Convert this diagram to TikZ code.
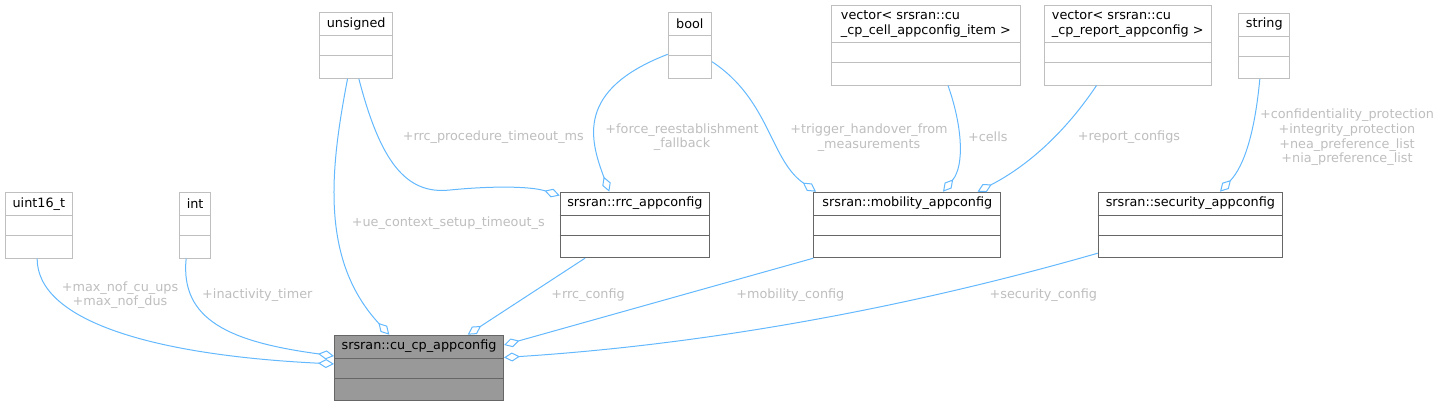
\documentclass[tikz,border=0pt]{standalone}
\usepackage{fontspec}
\setmainfont{DejaVu Sans}
\usetikzlibrary{arrows.meta}
\definecolor{EdgeBlue}{HTML}{63B8FF}
\definecolor{LabelGrey}{HTML}{BEBEBE}
\definecolor{TypeGrey}{HTML}{BFBFBF}
\definecolor{BoxGrey}{HTML}{666666}
\definecolor{RootFill}{HTML}{999999}

\tikzset{
  typebox/.style={draw=TypeGrey, fill=white, line width=1pt, inner sep=0pt},
  structbox/.style={draw=BoxGrey, fill=white, line width=1pt, inner sep=0pt},
  rootbox/.style={draw=BoxGrey, fill=RootFill, line width=1pt, inner sep=0pt},
  boxtitle/.style={inner sep=0pt, align=left, font=\fontsize{12.8}{15}\selectfont},
  memberlabel/.style={text=LabelGrey, inner sep=0pt, align=center, font=\fontsize{12.8}{14.6}\selectfont},
  member/.style={EdgeBlue, line width=1pt, -{Diamond[open, length=16pt, width=9pt]}},
}

% style, name, x, y, width, header height, title
\newcommand{\classbox}[7]{%
  \node[#1, anchor=north west, minimum width=#5, minimum height=#6+42] (#2) at (#3,#4) {};
  \draw[#1, fill=none] ([yshift=-#6]#2.north west) -- ([yshift=-#6]#2.north east);
  \draw[#1, fill=none] ([yshift=-#6-20]#2.north west) -- ([yshift=-#6-20]#2.north east);
  \node[boxtitle] (#2title) at ([yshift=-#6/2]#2.north) {#7};
}

\begin{document}
\begin{tikzpicture}[x=1pt, y=-1pt]
  \useasboundingbox (0,0) rectangle (1440,405);

  % member types
  \classbox{typebox}{uint}{5}{192}{66.7}{23.5}{uint16\_t}
  \classbox{typebox}{int}{179.3}{192}{30.7}{23.5}{int}
  \classbox{typebox}{unsigned}{319}{12.3}{73.3}{23.5}{unsigned}
  \classbox{typebox}{bool}{667.7}{12.3}{43.3}{23.5}{bool}
  \classbox{typebox}{vcell}{831}{5}{188.7}{37.5}{vector< srsran::cu\\\_cp\_cell\_appconfig\_item >}
  \classbox{typebox}{vrep}{1043.7}{5}{167}{37.5}{vector< srsran::cu\\\_cp\_report\_appconfig >}
  \classbox{typebox}{string}{1238.3}{12.7}{51}{23.5}{string}

  % config structs
  \classbox{structbox}{rrc}{559.7}{191.7}{149.3}{23.5}{srsran::rrc\_appconfig}
  \classbox{structbox}{mobility}{813.3}{191.7}{187}{23.5}{srsran::mobility\_appconfig}
  \classbox{structbox}{security}{1097.7}{191.7}{184.3}{23.5}{srsran::security\_appconfig}
  \classbox{rootbox}{cucp}{334}{334.7}{169}{23.5}{srsran::cu\_cp\_appconfig}

  % members of cu_cp_appconfig
  \draw[member] ([xshift=-1.7]uint.south) .. controls (37,320) and (150,355) .. ([yshift=4]cucp.west);
  \draw[member] ([xshift=-9]int.south) .. controls (180,320) and (230,342) .. ([yshift=12]cucp.west);
  \draw[member] ([xshift=-8.6]unsigned.south) .. controls (330,170) and (320,260) .. ([xshift=55.3]cucp.north west);
  \draw[member] ([xshift=25.3]rrc.south west) -- ([xshift=133.7]cucp.north west);
  \draw[member] (mobility.south west) -- ([yshift=-10.3]cucp.north east);
  \draw[member] ([yshift=5]security.south west) .. controls (900,310) and (700,345) .. ([yshift=-22.8]cucp.north east);

  % members of rrc_appconfig
  \draw[member] ([xshift=2.7]unsigned.south) .. controls (380,160) and (405,195) .. (450,190)
    .. controls (490,186) and (530,186) .. ([yshift=-3.8]rrc.north west);
  \draw[member] ([yshift=-42]bool.north west) .. controls (575,90) and (590,140) .. ([xshift=49.6]rrc.north west);

  % members of mobility_appconfig
  \draw[member] ([yshift=-49.4]bool.north east) .. controls (770,100) and (770,160) .. ([xshift=2.7]mobility.north west);
  \draw[member] ([xshift=117]vcell.south west) .. controls (962,125) and (965,165) .. ([xshift=129.7]mobility.north west);
  \draw[member] ([xshift=52.8]vrep.south west) .. controls (1060,140) and (1020,170) .. ([xshift=164.2]mobility.north west);

  % members of security_appconfig
  \draw[member] ([xshift=21.5]string.south west) .. controls (1255,130) and (1245,165) .. ([xshift=122.3]security.north west);

  % labels
  \node[memberlabel] (lnof) at (120,295) {+max\_nof\_cu\_ups\\+max\_nof\_dus};
  \node[memberlabel] (linact) at (257.3,294.7) {+inactivity\_timer};
  \node[memberlabel] (luectx) at (448.3,223.3) {+ue\_context\_setup\_timeout\_s};
  \node[memberlabel] (lrrcproc) at (493.3,137.3) {+rrc\_procedure\_timeout\_ms};
  \node[memberlabel] (lforce) at (682,137.2) {+force\_reestablishment\\\_fallback};
  \node[memberlabel] (ltrigger) at (869,137.5) {+trigger\_handover\_from\\\_measurements};
  \node[memberlabel] (lcells) at (987.8,137) {+cells};
  \node[memberlabel] (lreport) at (1129,137.5) {+report\_configs};
  \node[memberlabel] (lsec) at (1347,137.5) {+confidentiality\_protection\\+integrity\_protection\\+nea\_preference\_list\\+nia\_preference\_list};
  \node[memberlabel] (lrrc) at (588,295) {+rrc\_config};
  \node[memberlabel] (lmob) at (790.3,295) {+mobility\_config};
  \node[memberlabel] (lsecc) at (1043.3,295) {+security\_config};
\end{tikzpicture}
\end{document}
